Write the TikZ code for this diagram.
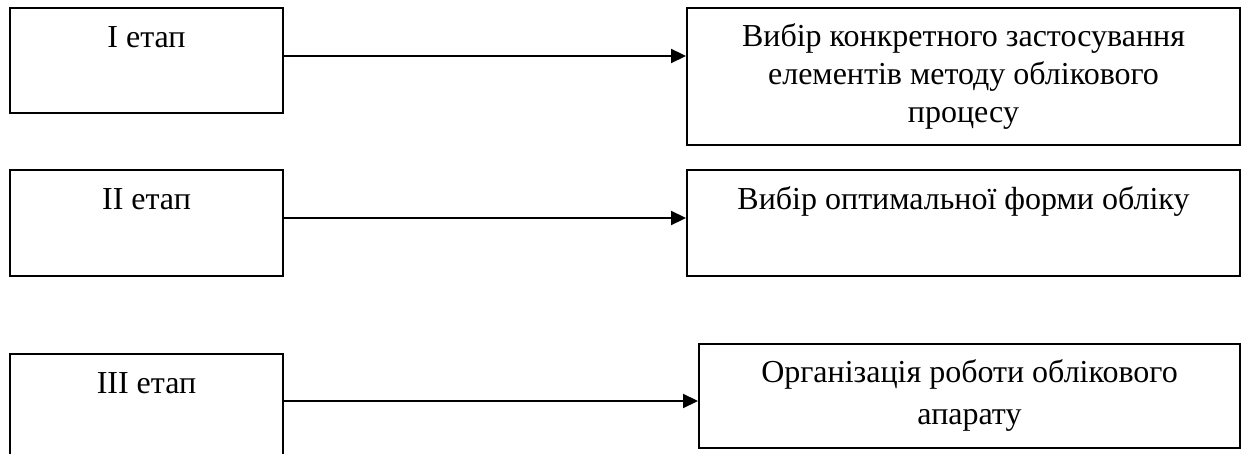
\documentclass[tikz,border=0pt]{standalone}
\usepackage{fontspec}
\setmainfont{Liberation Serif}
\usetikzlibrary{arrows.meta}
\begin{document}
\begin{tikzpicture}[x=1pt,y=-1pt,
  box/.style={draw=black,line width=2pt,rectangle,inner sep=0pt,anchor=north west},
  txt/.style={font=\fontsize{32}{38}\selectfont,align=center,inner sep=0pt,anchor=base},
  arr/.style={line width=2.2pt,-{Triangle[length=15pt,width=14pt]}}]
\clip (0,0) rectangle (1241,454);
% left boxes
\node[box,minimum width=273pt,minimum height=105pt] (l1) at (9,7) {};
\node[box,minimum width=273pt,minimum height=106pt] (l2) at (9,169) {};
\node[box,minimum width=273pt,minimum height=120pt] (l3) at (9,353) {};
% right boxes
\node[box,minimum width=553pt,minimum height=137pt] (r1) at (686,7) {};
\node[box,minimum width=553pt,minimum height=106pt] (r2) at (686,169) {};
\node[box,minimum width=541pt,minimum height=104pt] (r3) at (698,343) {};
% texts
\node[txt] (tl1) at ([yshift=-41pt]l1.north) {I етап};
\node[txt] (tl2) at ([yshift=-41pt]l2.north) {II етап};
\node[txt] (tl3) at ([yshift=-40pt]l3.north) {III етап};
\node[txt] (tr1) at ([yshift=-116pt]r1.north) {Вибір конкретного застосування\\елементів методу облікового\\процесу};
\node[txt] (tr2) at ([yshift=-41pt]r2.north) {Вибір оптимальної форми обліку};
\node[txt,font=\fontsize{32}{42}\selectfont] (tr3) at ([yshift=-81pt]r3.north) {Організація роботи облікового\\апарату};
% arrows
\draw[arr] (l1.east |- 0,56) -- (r1.west |- 0,56);
\draw[arr] (l2.east |- 0,218) -- (r2.west |- 0,218);
\draw[arr] (l3.east |- 0,401) -- (r3.west |- 0,401);
\end{tikzpicture}
\end{document}
